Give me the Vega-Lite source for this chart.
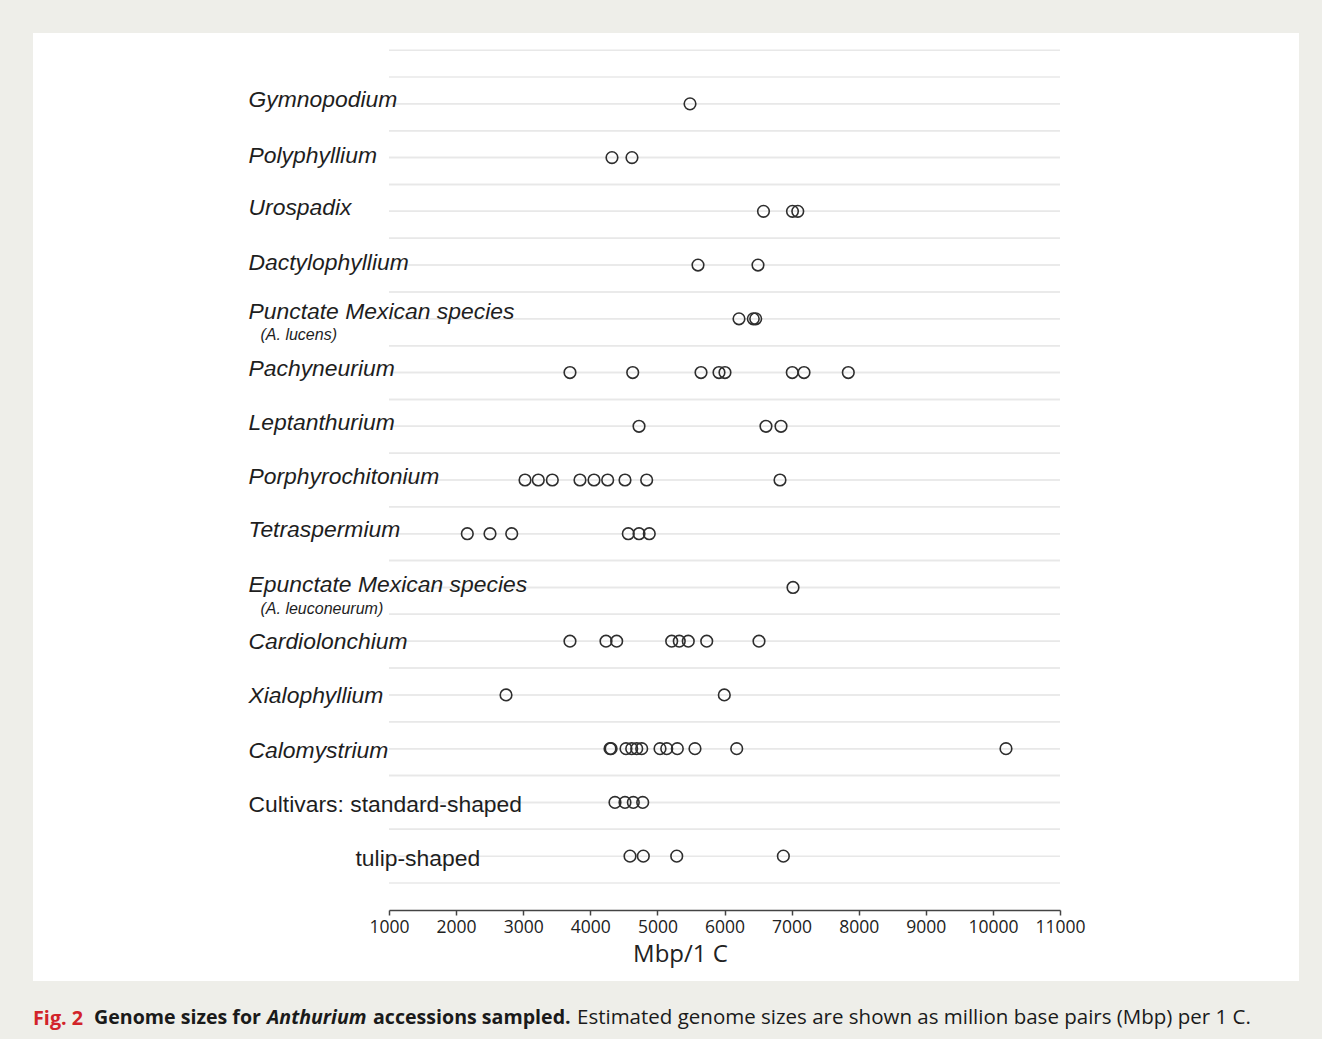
{
  "$schema": "https://vega.github.io/schema/vega-lite/v6.json",
  "background": "#eeeee9",
  "padding": {"left": 33, "top": 33, "right": 23, "bottom": 10},
  "spacing": 26,
  "config": {"view": {"stroke": null}},
  "datasets": {
    "rows": [
      {"clade": "Gymnopodium"}, {"clade": "Polyphyllium"}, {"clade": "Urospadix"}, {"clade": "Dactylophyllium"},
      {"clade": "Punctate Mexican species"}, {"clade": "Pachyneurium"}, {"clade": "Leptanthurium"},
      {"clade": "Porphyrochitonium"}, {"clade": "Tetraspermium"}, {"clade": "Epunctate Mexican species"},
      {"clade": "Cardiolonchium"}, {"clade": "Xialophyllium"}, {"clade": "Calomystrium"},
      {"clade": "Cultivars: standard-shaped"}, {"clade": "tulip-shaped"}
    ],
    "pts": [
      {"clade": "Gymnopodium", "mbp": 5486},
      {"clade": "Polyphyllium", "mbp": 4323}, {"clade": "Polyphyllium", "mbp": 4621},
      {"clade": "Urospadix", "mbp": 6581}, {"clade": "Urospadix", "mbp": 7013}, {"clade": "Urospadix", "mbp": 7092},
      {"clade": "Dactylophyllium", "mbp": 5605}, {"clade": "Dactylophyllium", "mbp": 6499},
      {"clade": "Punctate Mexican species", "mbp": 6216}, {"clade": "Punctate Mexican species", "mbp": 6429}, {"clade": "Punctate Mexican species", "mbp": 6465},
      {"clade": "Pachyneurium", "mbp": 3697}, {"clade": "Pachyneurium", "mbp": 4632}, {"clade": "Pachyneurium", "mbp": 5650}, {"clade": "Pachyneurium", "mbp": 5918},
      {"clade": "Pachyneurium", "mbp": 6007}, {"clade": "Pachyneurium", "mbp": 7010}, {"clade": "Pachyneurium", "mbp": 7185}, {"clade": "Pachyneurium", "mbp": 7845},
      {"clade": "Leptanthurium", "mbp": 4726}, {"clade": "Leptanthurium", "mbp": 6618}, {"clade": "Leptanthurium", "mbp": 6842},
      {"clade": "Porphyrochitonium", "mbp": 3027}, {"clade": "Porphyrochitonium", "mbp": 3225}, {"clade": "Porphyrochitonium", "mbp": 3434},
      {"clade": "Porphyrochitonium", "mbp": 3846}, {"clade": "Porphyrochitonium", "mbp": 4055}, {"clade": "Porphyrochitonium", "mbp": 4259},
      {"clade": "Porphyrochitonium", "mbp": 4517}, {"clade": "Porphyrochitonium", "mbp": 4840}, {"clade": "Porphyrochitonium", "mbp": 6827},
      {"clade": "Tetraspermium", "mbp": 2167}, {"clade": "Tetraspermium", "mbp": 2505}, {"clade": "Tetraspermium", "mbp": 2829},
      {"clade": "Tetraspermium", "mbp": 4566}, {"clade": "Tetraspermium", "mbp": 4726}, {"clade": "Tetraspermium", "mbp": 4879},
      {"clade": "Epunctate Mexican species", "mbp": 7021},
      {"clade": "Cardiolonchium", "mbp": 3697}, {"clade": "Cardiolonchium", "mbp": 4234}, {"clade": "Cardiolonchium", "mbp": 4393},
      {"clade": "Cardiolonchium", "mbp": 5213}, {"clade": "Cardiolonchium", "mbp": 5326}, {"clade": "Cardiolonchium", "mbp": 5460},
      {"clade": "Cardiolonchium", "mbp": 5735}, {"clade": "Cardiolonchium", "mbp": 6514},
      {"clade": "Xialophyllium", "mbp": 2744}, {"clade": "Xialophyllium", "mbp": 5997},
      {"clade": "Calomystrium", "mbp": 4294}, {"clade": "Calomystrium", "mbp": 4310}, {"clade": "Calomystrium", "mbp": 4532},
      {"clade": "Calomystrium", "mbp": 4617}, {"clade": "Calomystrium", "mbp": 4692}, {"clade": "Calomystrium", "mbp": 4766},
      {"clade": "Calomystrium", "mbp": 5039}, {"clade": "Calomystrium", "mbp": 5139}, {"clade": "Calomystrium", "mbp": 5297},
      {"clade": "Calomystrium", "mbp": 5560}, {"clade": "Calomystrium", "mbp": 6182}, {"clade": "Calomystrium", "mbp": 10195},
      {"clade": "Cultivars: standard-shaped", "mbp": 4368}, {"clade": "Cultivars: standard-shaped", "mbp": 4517},
      {"clade": "Cultivars: standard-shaped", "mbp": 4641}, {"clade": "Cultivars: standard-shaped", "mbp": 4781},
      {"clade": "tulip-shaped", "mbp": 4592}, {"clade": "tulip-shaped", "mbp": 4790}, {"clade": "tulip-shaped", "mbp": 5288}, {"clade": "tulip-shaped", "mbp": 6877}
    ]
  },
  "vconcat": [
    {
      "width": 1266,
      "height": 948,
      "view": {"fill": "white", "stroke": null},
      "layer": [
        {
          "data": {"name": "rows"},
          "mark": {"type": "rule", "color": "#e8e8e8", "strokeWidth": 1.5},
          "encoding": {
            "y": {
              "field": "clade", "type": "nominal", "bandPosition": 0.5,
              "scale": {
                "type": "band",
                "domain": ["Gymnopodium", "Polyphyllium", "Urospadix", "Dactylophyllium", "Punctate Mexican species", "Pachyneurium", "Leptanthurium", "Porphyrochitonium", "Tetraspermium", "Epunctate Mexican species", "Cardiolonchium", "Xialophyllium", "Calomystrium", "Cultivars: standard-shaped", "tulip-shaped"],
                "range": [44, 850], "paddingInner": 0, "paddingOuter": 0
              },
              "axis": {
                "orient": "left", "offset": 0, "domain": false, "ticks": false, "grid": false, "title": null,
                "labelExpr": "datum.value === 'Punctate Mexican species' ? '(A. lucens)' : (datum.value === 'Epunctate Mexican species' ? '(A. leuconeurum)' : '')",
                "labelAlign": "left", "labelBaseline": "middle", "labelFont": "Liberation Sans", "labelFontSize": 16,
                "labelFontStyle": "italic", "labelColor": "#1e1e1e", "labelPadding": -227,
                "labelOffset": {"condition": {"test": "datum.value === 'Epunctate Mexican species'", "value": 22}, "value": 16},
                "labelLimit": 0, "labelOverlap": false, "zindex": 1
              }
            },
            "x": {
              "datum": 1000, "type": "quantitative",
              "scale": {"domain": [1000, 11000], "range": [356, 1027], "nice": false, "zero": false},
              "axis": {
                "orient": "bottom", "offset": -71, "zindex": 1,
                "values": [1000, 2000, 3000, 4000, 5000, 6000, 7000, 8000, 9000, 10000, 11000],
                "format": "d", "grid": false,
                "domainColor": "#444444", "domainWidth": 1.5, "tickColor": "#444444", "tickWidth": 1.5, "tickSize": 5,
                "labelFont": "Open Sans", "labelFontSize": 17.5, "labelColor": "#222222", "labelPadding": 3.5,
                "labelFlush": false, "labelOverlap": false,
                "title": "Mbp/1 C", "titleFont": "Open Sans", "titleFontSize": 24, "titleFontWeight": "normal",
                "titleColor": "#222222", "titlePadding": 6, "titleX": 647, "titleAlign": "center"
              }
            },
            "x2": {"datum": 11000}
          }
        },
        {
          "data": {"name": "rows"},
          "mark": {"type": "rule", "color": "#e8e8e8", "strokeWidth": 1.5},
          "encoding": {
            "y": {"field": "clade", "type": "nominal", "bandPosition": 0, "axis": null},
            "x": {"datum": 1000, "type": "quantitative"},
            "x2": {"datum": 11000}
          }
        },
        {
          "data": {"name": "rows"},
          "mark": {"type": "rule", "color": "#e8e8e8", "strokeWidth": 1.5},
          "encoding": {
            "y": {"field": "clade", "type": "nominal", "bandPosition": 1, "axis": null},
            "x": {"datum": 1000, "type": "quantitative"},
            "x2": {"datum": 11000}
          }
        },
        {
          "data": {"name": "rows"},
          "mark": {"type": "rule", "color": "#e8e8e8", "strokeWidth": 1.5},
          "encoding": {
            "y": {"field": "clade", "type": "nominal", "bandPosition": -0.5, "axis": null},
            "x": {"datum": 1000, "type": "quantitative"},
            "x2": {"datum": 11000}
          }
        },
        {
          "data": {"name": "pts"},
          "mark": {"type": "point", "shape": "circle", "filled": false, "size": 135, "stroke": "#2e2e2e", "strokeWidth": 1.6, "opacity": 1},
          "encoding": {
            "x": {"field": "mbp", "type": "quantitative"},
            "y": {
              "field": "clade", "type": "nominal",
              "axis": {
                "orient": "left", "offset": 0, "domain": false, "ticks": false, "tickSize": 0, "grid": false, "title": null,
                "labelAlign": "left", "labelBaseline": "middle", "labelFont": "Liberation Sans", "labelFontSize": 22.9,
                "labelColor": "#1e1e1e",
                "labelFontStyle": {"condition": {"test": "datum.value === 'Cultivars: standard-shaped' || datum.value === 'tulip-shaped'", "value": "normal"}, "value": "italic"},
                "labelPadding": {"condition": {"test": "datum.value === 'tulip-shaped'", "value": -322}, "value": -215},
                "labelOffset": {"condition": [
                  {"test": "datum.value === 'Punctate Mexican species'", "value": -7},
                  {"test": "datum.value === 'Cardiolonchium' || datum.value === 'Xialophyllium'", "value": 1},
                  {"test": "datum.value === 'Calomystrium' || datum.value === 'Cultivars: standard-shaped' || datum.value === 'tulip-shaped'", "value": 2.5},
                  {"test": "datum.value === 'Dactylophyllium' || datum.value === 'Epunctate Mexican species' || datum.value === 'Polyphyllium'", "value": -2}
                ], "value": -3.5},
                "labelLimit": 0, "labelOverlap": false, "zindex": 1
              }
            }
          }
        }
      ],
      "resolve": {"axis": {"y": "independent"}}
    },
    {
      "spacing": 6,
      "hconcat": [
        {
          "data": {"values": [{}]}, "width": 1, "height": 1, "view": {"stroke": null},
          "mark": {"type": "text"}, "encoding": {"text": {"value": ""}},
          "title": {"text": "Fig. 2", "font": "Open Sans", "fontSize": 19.8, "fontWeight": "bold", "color": "#d2232a", "anchor": "start", "offset": 0}
        },
        {
          "data": {"values": [{}]}, "width": 1, "height": 1, "view": {"stroke": null},
          "mark": {"type": "text"}, "encoding": {"text": {"value": ""}},
          "title": {"text": "Genome sizes for", "font": "Open Sans", "fontSize": 19.6, "fontWeight": "bold", "color": "#1a1a1a", "anchor": "start", "offset": 0, "dx": 4}
        },
        {
          "data": {"values": [{}]}, "width": 1, "height": 1, "view": {"stroke": null},
          "mark": {"type": "text"}, "encoding": {"text": {"value": ""}},
          "title": {"text": "Anthurium", "font": "Open Sans", "fontSize": 19.6, "fontWeight": "bold", "fontStyle": "italic", "color": "#1a1a1a", "anchor": "start", "offset": 0}
        },
        {
          "data": {"values": [{}]}, "width": 1, "height": 1, "view": {"stroke": null},
          "mark": {"type": "text"}, "encoding": {"text": {"value": ""}},
          "title": {"text": "accessions sampled.", "font": "Open Sans", "fontSize": 19.6, "fontWeight": "bold", "color": "#1a1a1a", "anchor": "start", "offset": 0}
        },
        {
          "data": {"values": [{}]}, "width": 1, "height": 1, "view": {"stroke": null},
          "mark": {"type": "text"}, "encoding": {"text": {"value": ""}},
          "title": {"text": "Estimated genome sizes are shown as million base pairs (Mbp) per 1 C.", "font": "Open Sans", "fontSize": 20.5, "fontWeight": "normal", "color": "#1a1a1a", "anchor": "start", "offset": 0}
        }
      ]
    }
  ]
}
